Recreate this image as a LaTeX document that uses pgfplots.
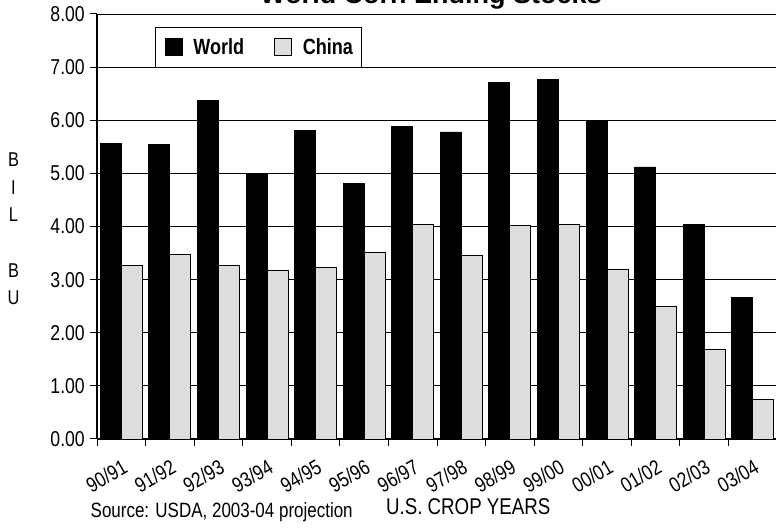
\documentclass[border=0pt]{standalone}
\usepackage{pgfplots}
\pgfplotsset{compat=1.18}
\usepackage{fontspec}
\setmainfont{Liberation Sans}[FakeStretch=0.82]
\newfontfamily\titlefont{Liberation Sans}
\definecolor{chinagray}{RGB}{221,221,221}
\begin{document}
\begin{tikzpicture}[x=1pt,y=1pt]
\begin{axis}[
  at={(97pt,90pt)}, anchor=south west,
  scale only axis, width=680pt, height=425pt,
  xmin=-0.5, xmax=13.5, ymin=0, ymax=8,
  axis x line*=bottom, axis y line*=left,
  axis line style={line width=1.6pt, black},
  xtick={-0.5,0.5,...,13.5},
  x tick label as interval,
  xticklabels={90/91,91/92,92/93,93/94,94/95,95/96,96/97,97/98,98/99,99/00,00/01,01/02,02/03,03/04},
  ytick={0,1,...,8},
  tick align=outside,
  major tick length=7pt,
  tick style={black, line width=1pt},
  ymajorgrids,
  grid style={black, line width=0.9pt},
  /pgf/number format/assume math mode=true,
  y tick label style={/pgf/number format/.cd, fixed, fixed zerofill, precision=2, /tikz/.cd,
     anchor=east, inner sep=0pt, xshift=-5pt, font=\fontsize{21.5}{25}\selectfont},
  x tick label style={xshift=4pt, yshift=-19pt, rotate=30, anchor=east, inner sep=0pt, font=\fontsize{21}{25}\selectfont},
  legend columns=2,
  legend style={at={(0.0853,0.9694)}, anchor=north west, draw=black, line width=1pt, fill=white,
     font=\bfseries\fontsize{22}{26}\selectfont, inner xsep=9pt, inner ysep=11pt,
     nodes={inner sep=0pt}, column sep=0pt,
     /tikz/every odd column/.append style={column sep=11pt},
     /tikz/every even column/.append style={column sep=30pt}},
]
\addplot[ybar, bar width=21pt, bar shift=-10.5pt, fill=black, draw=black, line width=0.8pt,
  legend image code/.code={\draw[fill=black,draw=black,line width=0.8pt] (0pt,-8.5pt) rectangle (17pt,8.5pt);}]
  coordinates {(0,5.57) (1,5.54) (2,6.38) (3,5.00) (4,5.81) (5,4.81) (6,5.89) (7,5.78) (8,6.71) (9,6.77) (10,6.00) (11,5.12) (12,4.04) (13,2.66)};
\addlegendentry{World}
\addplot[ybar, bar width=21pt, bar shift=10.5pt, fill=chinagray, draw=black, line width=0.8pt,
  legend image code/.code={\draw[fill=chinagray,draw=black,line width=0.8pt] (0pt,-8.5pt) rectangle (17pt,8.5pt);}]
  coordinates {(0,3.26) (1,3.48) (2,3.27) (3,3.18) (4,3.23) (5,3.52) (6,4.03) (7,3.45) (8,4.02) (9,4.03) (10,3.20) (11,2.49) (12,1.68) (13,0.75)};
\addlegendentry{China}
\end{axis}
\node[font=\titlefont\bfseries\fontsize{27}{32}\selectfont, anchor=base] at (431,525) {World Corn Ending Stocks};
\node[font=\fontsize{20}{27.6}\selectfont, align=center] at (13.5,300) {B\\I\\L\\~\\B\\U};
\node[anchor=base west, inner sep=0pt, font=\fontsize{22.8}{27}\selectfont] at (386,14) {U.S. CROP YEARS};
\node[anchor=base west, inner sep=0pt, font=\fontsize{20.7}{25}\selectfont] at (90.5,11) {Source: USDA, 2003-04 projection};
\pgfresetboundingbox
\path[use as bounding box] (0,0) rectangle (776,529);
\end{tikzpicture}
\end{document}
